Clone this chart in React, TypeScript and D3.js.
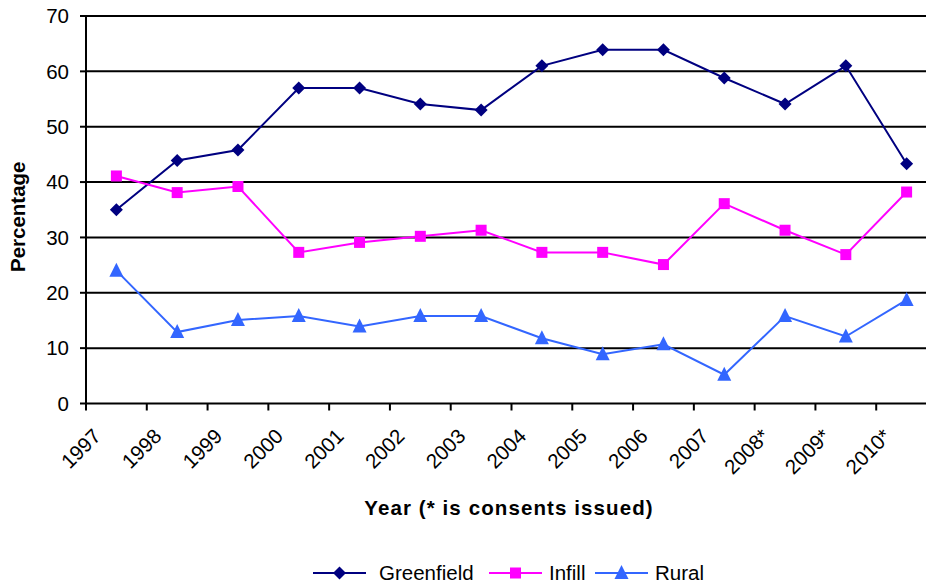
import React from "react";
import * as d3 from "d3";

const categories = ["1997","1998","1999","2000","2001","2002","2003","2004","2005","2006","2007","2008*","2009*","2010*"];
const greenfield = [35, 43.9, 45.8, 57, 57, 54.1, 53, 61, 63.9, 63.9, 58.8, 54.1, 61, 43.3];
const infill = [41.1, 38.1, 39.2, 27.3, 29.1, 30.2, 31.3, 27.3, 27.3, 25.1, 36.1, 31.3, 26.9, 38.2];
const rural = [24, 12.9, 15.1, 15.8, 13.9, 15.8, 15.8, 11.8, 8.9, 10.7, 5.2, 15.8, 12.1, 18.7];
const yTicks = [0, 10, 20, 30, 40, 50, 60, 70];

const seriesList = [
  { name: "Greenfield", values: greenfield, color: "#000080", marker: "diamond" },
  { name: "Infill", values: infill, color: "#FF00FF", marker: "square" },
  { name: "Rural", values: rural, color: "#3366FF", marker: "triangle" },
];

const FONT = "'Liberation Sans', Arial, sans-serif";

function Marker({ type, x, y, color }: { type: string; x: number; y: number; color: string }) {
  if (type === "diamond") {
    const s = 6.5;
    return <path d={`M${x},${y - s}L${x + s},${y}L${x},${y + s}L${x - s},${y}Z`} fill={color} />;
  }
  if (type === "square") {
    const s = 5.5;
    return <rect x={x - s} y={y - s} width={2 * s} height={2 * s} fill={color} />;
  }
  const s = 7;
  return <path d={`M${x},${y - s - 1}L${x + s},${y + s - 1}L${x - s},${y + s - 1}Z`} fill={color} />;
}

export default function App() {
  const W = 926, H = 586;
  const left = 86, right = 937, top = 16, bottom = 403.5;
  const x = d3.scaleBand<string>().domain(categories).range([left, right]);
  const y = d3.scaleLinear().domain([0, 70]).range([bottom, top]);
  const cx = (c: string) => (x(c) as number) + x.bandwidth() / 2;
  const line = d3.line<number>().x((_, i) => cx(categories[i])).y((v) => y(v));

  const legendItems = [
    { s: seriesList[0], lx: 313, tx: 379 },
    { s: seriesList[1], lx: 489, tx: 549 },
    { s: seriesList[2], lx: 595, tx: 655 },
  ];
  const ly = 573;

  return (
    <svg width={W} height={H} style={{ position: "absolute", left: 0, top: 0, background: "#fff" }} fontFamily={FONT}>
      {yTicks.map((t) => (
        <g key={t}>
          {t > 0 && <line x1={left} x2={W} y1={y(t)} y2={y(t)} stroke="#000" strokeWidth={2} />}
          <line x1={left - 6} x2={left} y1={y(t)} y2={y(t)} stroke="#000" strokeWidth={2} />
          <text x={left - 17} y={y(t)} dy="0.35em" textAnchor="end" fontSize={20.5} fill="#000">{t}</text>
        </g>
      ))}
      <line x1={left} x2={W} y1={bottom} y2={bottom} stroke="#000" strokeWidth={2} />
      <line x1={left} x2={left} y1={top} y2={bottom + 1} stroke="#000" strokeWidth={2} />
      {categories.map((c) => {
        const tx = x(c) as number;
        return (
          <g key={c}>
            <line x1={tx} x2={tx} y1={bottom} y2={bottom + 7} stroke="#000" strokeWidth={2} />
            <text
              transform={`translate(${tx + 16},${bottom + 34}) rotate(-45)`}
              textAnchor="end"
              fontSize={20.5}
              fill="#000"
            >{c}</text>
          </g>
        );
      })}
      <text transform={`translate(25,${(top + bottom) / 2 + 7}) rotate(-90)`} textAnchor="middle" fontSize={20.5} fontWeight="bold" fill="#000">Percentage</text>
      <text x={509} y={515} textAnchor="middle" fontSize={20.5} fontWeight="bold" letterSpacing={1.1} fill="#000">Year (* is consents issued)</text>

      {seriesList.map((s) => (
        <g key={s.name}>
          <path d={line(s.values) || ""} fill="none" stroke={s.color} strokeWidth={2} />
          {s.values.map((v, i) => (
            <Marker key={i} type={s.marker} x={cx(categories[i])} y={y(v)} color={s.color} />
          ))}
        </g>
      ))}

      {legendItems.map(({ s, lx, tx }) => (
        <g key={s.name}>
          <line x1={lx} x2={lx + 53} y1={ly} y2={ly} stroke={s.color} strokeWidth={2} />
          <Marker type={s.marker} x={lx + 26.5} y={ly} color={s.color} />
          <text x={tx} y={ly} dy="0.35em" fontSize={20.5} fill="#000">{s.name}</text>
        </g>
      ))}
    </svg>
  );
}
